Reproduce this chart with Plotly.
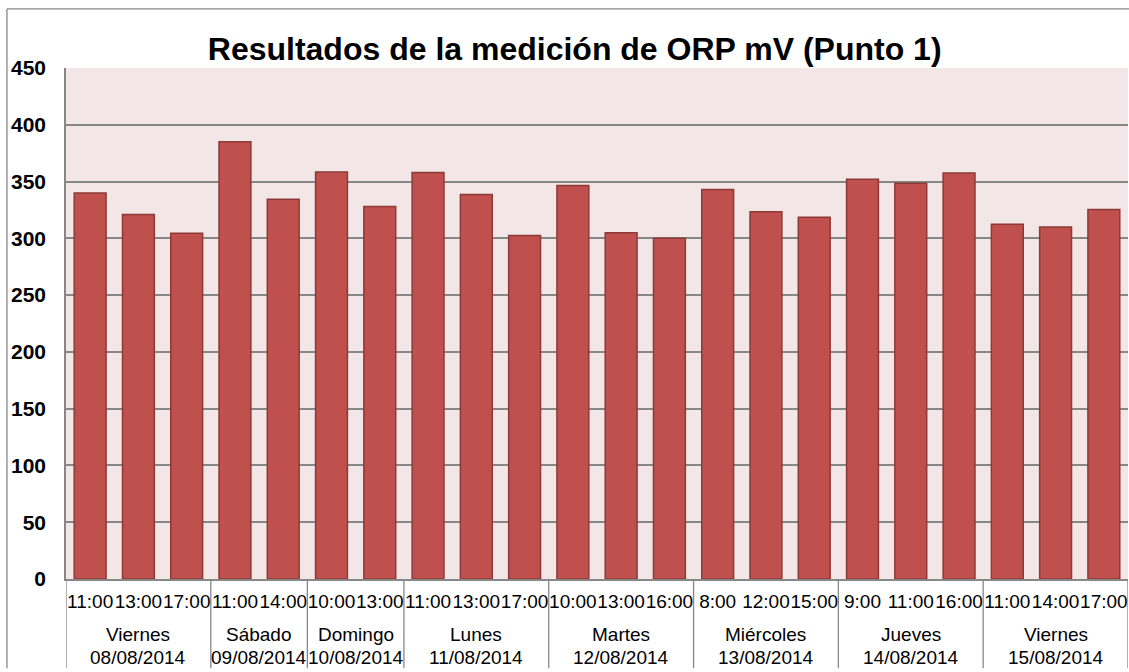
import plotly.graph_objects as go

# Days of measurement and the hours sampled on each day
dias = ["Viernes", "Sábado", "Domingo", "Lunes", "Martes", "Miércoles", "Jueves", "Viernes"]
fechas = ["08/08/2014", "09/08/2014", "10/08/2014", "11/08/2014",
          "12/08/2014", "13/08/2014", "14/08/2014", "15/08/2014"]
horas = [
    ["11:00", "13:00", "17:00"],
    ["11:00", "14:00"],
    ["10:00", "13:00"],
    ["11:00", "13:00", "17:00"],
    ["10:00", "13:00", "16:00"],
    ["8:00", "12:00", "15:00"],
    ["9:00", "11:00", "16:00"],
    ["11:00", "14:00", "17:00"],
]
# ORP readings (mV), in the same order as the hours above
orp_mv = [
    340, 321, 304.5,
    385, 334.5,
    358.5, 328,
    358, 338.5, 302.5,
    346.5, 305, 300,
    343, 323.5, 318.5,
    352, 348.5, 357.5,
    312.5, 310, 325.5,
]

y_ticks = list(range(0, 451, 50))

etiquetas_hora = [h for hs in horas for h in hs]
posiciones = list(range(len(etiquetas_hora)))

# group boundaries / centres along the category axis
limites = [-0.5]
centros = []
for hs in horas:
    inicio = limites[-1]
    limites.append(inicio + len(hs))
    centros.append(inicio + len(hs) / 2)

FONT = "Arial, Liberation Sans, sans-serif"
GRAY = "#878787"

fig = go.Figure(
    go.Bar(
        x=posiciones,
        y=orp_mv,
        marker=dict(color="#C0504D", line=dict(color="#8C3A37", width=1.5)),
        hovertext=etiquetas_hora,
        hoverinfo="text+y",
    )
)

fig.update_layout(
    width=1129,
    height=672,
    margin=dict(l=66, r=1, t=68, b=93),
    paper_bgcolor="white",
    plot_bgcolor="#F2E6E6",
    bargap=0.34,
    showlegend=False,
    title=dict(
        text="<b>Resultados de la medición de ORP mV (Punto 1)</b>",
        font=dict(family=FONT, size=32, color="black"),
        x=0.509,
        xanchor="center",
        y=0.928,
        yanchor="middle",
    ),
    font=dict(family=FONT, color="black"),
)

fig.update_yaxes(
    range=[0, 450],
    tickvals=y_ticks,
    ticktext=[f"<b>{v}</b>" for v in y_ticks],
    tickfont=dict(family=FONT, size=21, color="black"),
    showgrid=True,
    gridcolor=GRAY,
    gridwidth=1.5,
    showline=True,
    linecolor=GRAY,
    linewidth=1.5,
    zeroline=False,
    ticks="",
    ticklabelstandoff=14,
    automargin=False,
)

fig.update_xaxes(
    range=[-0.5, len(posiciones) - 0.5],
    tickvals=posiciones,
    ticktext=etiquetas_hora,
    tickangle=0,
    tickfont=dict(family=FONT, size=19, color="black"),
    showline=True,
    linecolor=GRAY,
    linewidth=1.5,
    ticks="",
    ticklabelstandoff=4,
    showgrid=False,
    zeroline=False,
    automargin=False,
)

# Group dividers below the axis
for b in limites:
    fig.add_shape(type="line", xref="x", yref="paper", x0=b, x1=b, y0=0, y1=-0.1745,
                  line=dict(color=GRAY, width=1.3))

# Day name and date under each group
for c, d, f in zip(centros, dias, fechas):
    fig.add_annotation(x=c, xref="x", y=-0.1088, yref="paper", text=d, showarrow=False,
                       yanchor="middle", font=dict(family=FONT, size=19, color="black"))
    fig.add_annotation(x=c, xref="x", y=-0.1529, yref="paper", text=f, showarrow=False,
                       yanchor="middle", font=dict(family=FONT, size=19, color="black"))

# Outer frame of the chart (top and left edges)
frame = dict(type="line", xref="paper", yref="paper", line=dict(color=GRAY, width=1.3))
fig.add_shape(x0=-0.0556, x1=1.001, y0=1.1157, y1=1.1157, **frame)
fig.add_shape(x0=-0.0556, x1=-0.0556, y0=1.1157, y1=-0.1745, **frame)

fig.write_html("out.html")
